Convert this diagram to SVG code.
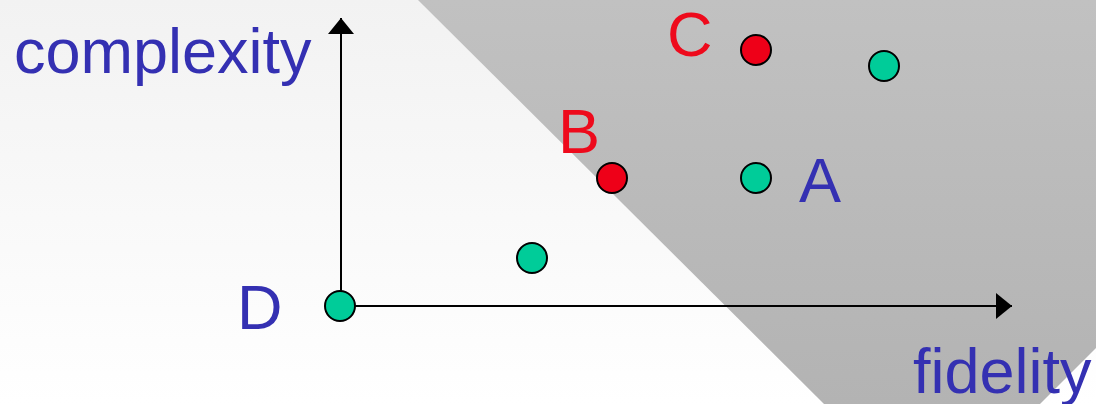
<svg xmlns="http://www.w3.org/2000/svg" width="1096" height="404" viewBox="0 0 1096 404">
  <defs>
    <linearGradient id="bgGrad" x1="0" y1="0" x2="0" y2="1">
      <stop offset="0" stop-color="#f2f2f2"/>
      <stop offset="1" stop-color="#ffffff"/>
    </linearGradient>
    <linearGradient id="regionGrad" x1="0" y1="0" x2="0" y2="1">
      <stop offset="0" stop-color="#c1c1c1"/>
      <stop offset="1" stop-color="#b3b3b3"/>
    </linearGradient>
    <marker id="arrow" viewBox="0 0 16 26" refX="16" refY="13" markerWidth="16" markerHeight="26" markerUnits="userSpaceOnUse" orient="auto">
      <path d="M0,0 L16,13 L0,26 Z" fill="#000"/>
    </marker>
    <style>
      .label { font-family: "Liberation Sans", Arial, sans-serif; font-size: 63px; }
      .blue { fill: #3430b2; }
      .red { fill: #ee0a1c; }
      .axis { stroke: #000; stroke-width: 2; fill: none; }
      .pt { stroke: #000; stroke-width: 2; }
      .pt-green { fill: #00cc99; }
      .pt-red { fill: #ee0018; }
    </style>
  </defs>

  <!-- background and shaded region -->
  <rect x="0" y="0" width="1096" height="404" fill="url(#bgGrad)"/>
  <polygon points="418,0 1096,0 1096,348 1040,404 824,404" fill="url(#regionGrad)"/>

  <!-- axes -->
  <g id="connectors">
    <line class="axis" x1="341" y1="306" x2="341" y2="18" marker-end="url(#arrow)"/>
    <line class="axis" x1="341" y1="306" x2="1012" y2="306" marker-end="url(#arrow)"/>
  </g>

  <!-- axis titles -->
  <text class="label blue" x="14" y="73">complexity</text>
  <text class="label blue" x="913" y="393">fidelity</text>

  <!-- points -->
  <g id="node-D">
    <circle class="pt pt-green" cx="340" cy="306" r="15"/>
    <text class="label blue" x="237" y="329">D</text>
  </g>
  <g id="node-E">
    <circle class="pt pt-green" cx="532" cy="258" r="15"/>
  </g>
  <g id="node-B">
    <circle class="pt pt-red" cx="612" cy="178" r="15"/>
    <text class="label red" x="558" y="153">B</text>
  </g>
  <g id="node-A">
    <circle class="pt pt-green" cx="756" cy="178" r="15"/>
    <text class="label blue" x="799" y="202">A</text>
  </g>
  <g id="node-C">
    <circle class="pt pt-red" cx="756" cy="50" r="15"/>
    <text class="label red" x="667" y="56">C</text>
  </g>
  <g id="node-F">
    <circle class="pt pt-green" cx="884" cy="66" r="15"/>
  </g>
</svg>
